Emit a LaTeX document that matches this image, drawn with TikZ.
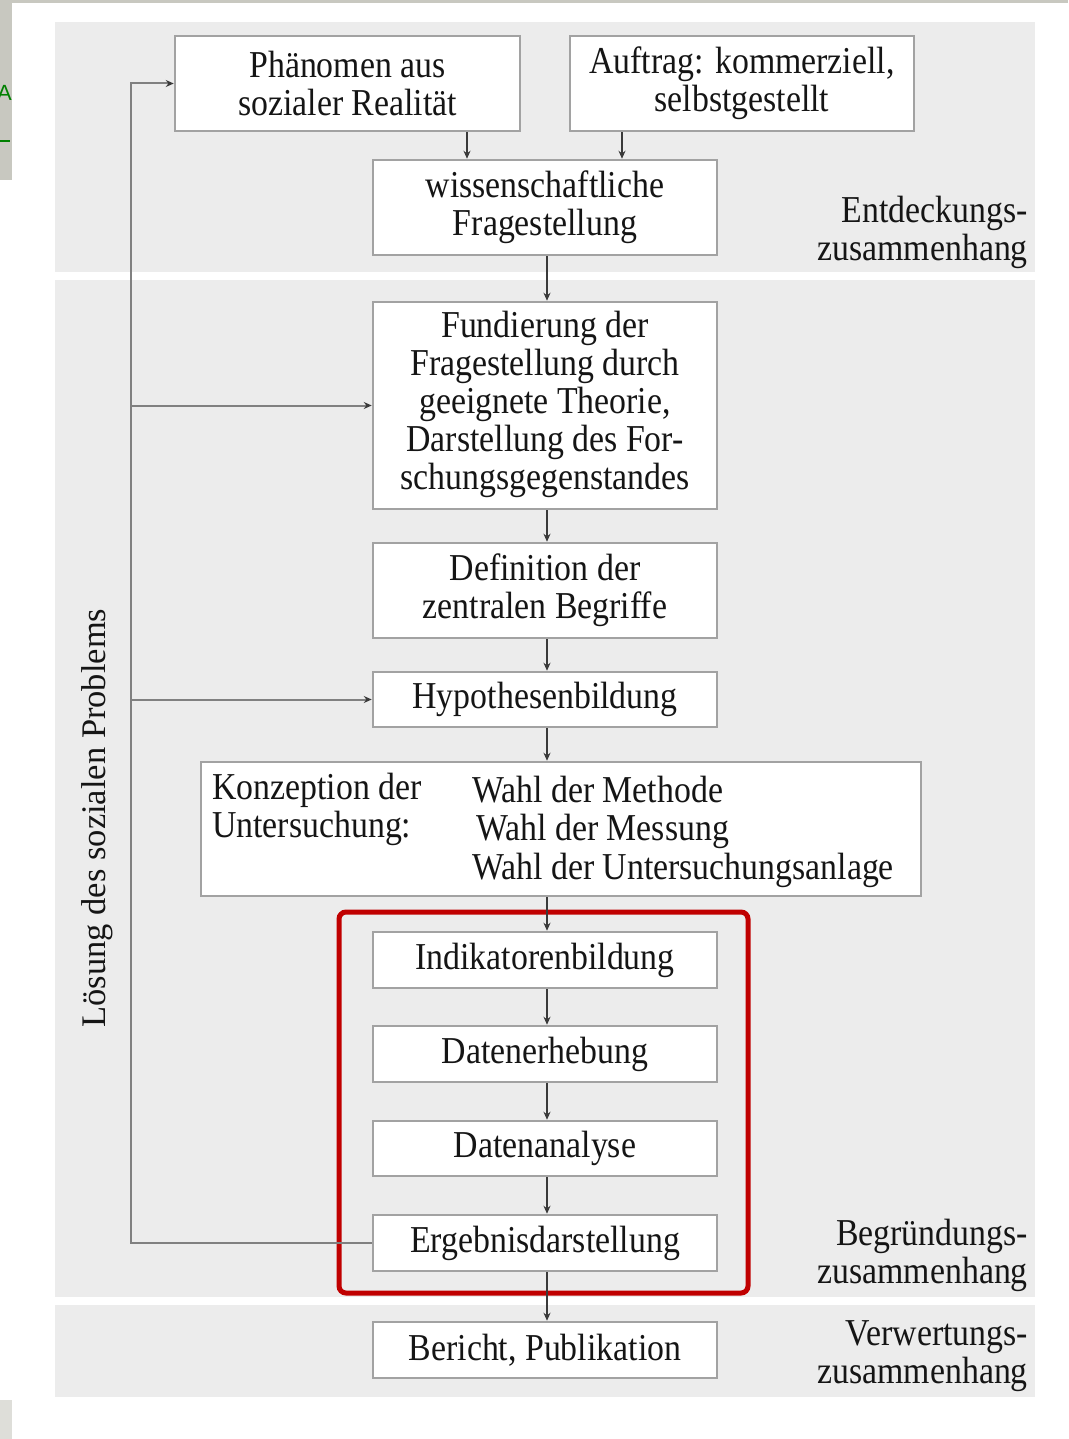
\documentclass[tikz,border=0pt]{standalone}
\usepackage{fontspec}
\setmainfont[FakeStretch=0.89]{Liberation Serif}
\newfontfamily\rotfont{Liberation Serif}
\newfontfamily\uifont{Liberation Sans}
\usetikzlibrary{arrows.meta,calc}
\definecolor{panel}{HTML}{ECECEC}
\definecolor{boxline}{HTML}{A2A2A2}
\definecolor{txt}{HTML}{151515}
\definecolor{conn}{HTML}{3A3A3A}
\definecolor{loop}{HTML}{808080}
\definecolor{redframe}{HTML}{C00000}
\definecolor{uigray}{HTML}{C8C8C0}
\definecolor{uigreen}{HTML}{008000}
\tikzset{
  stepbox/.style={draw=boxline, line width=2.5pt, fill=white, inner sep=0pt,
    minimum width=344pt, text=txt, align=center,
    font=\fontsize{38}{38}\selectfont},
  sidelabel/.style={anchor=east, align=right, text=txt, inner sep=0pt,
    font=\fontsize{38}{38}\selectfont},
  plain/.style={text=txt, inner sep=0pt, anchor=west,
    font=\fontsize{38}{38}\selectfont},
  arr/.style={draw=conn, line width=1.6pt, -{Stealth[length=8pt,width=7pt]}},
  looparr/.style={draw=loop, line width=2pt, -{Stealth[length=8pt,width=7pt,color=conn]}},
  loopline/.style={draw=loop, line width=2pt}
}
\begin{document}
\begin{tikzpicture}[x=1pt,y=-1pt]
\useasboundingbox (0,0) rectangle (1068,1439);
\fill[white] (0,0) rectangle (1068,1439);
% screenshot edge artifacts
\fill[uigray] (0,0) rectangle (1068,3);
\fill[uigray] (0,0) rectangle (12,180);
\fill[uigray!60] (0,1400) rectangle (12,1439);
\node[anchor=west, inner sep=0pt, text=uigreen, font=\uifont\fontsize{22}{22}\selectfont] (uiA) at (-3,93) {A};
\draw[uigreen, line width=1.5pt] (0,141) -- (10,141);
% panels
\fill[panel] (55,22) rectangle (1035,272);
\fill[panel] (55,280) rectangle (1035,1297);
\fill[panel] (55,1305) rectangle (1035,1397);
% red frame
\draw[redframe, line width=5pt, rounded corners=7pt] (339,912) rectangle (748,1293);
% boxes
\node[stepbox, minimum width=345pt, minimum height=95pt] (phen) at (347.5,83.5) {Phänomen aus\\sozialer Realität};
\node[stepbox, minimum width=344pt, minimum height=95pt] (auft) at (742,83.5) {Auftrag: kommerziell,\\selbstgestellt};
\node[stepbox, minimum height=95pt] (wiss) at (545,207.5) {wissenschaftliche\\Fragestellung};
\node[stepbox, minimum height=207pt] (fund) at (545,405.5) {\raisebox{-3pt}{\begin{tabular}{@{}c@{}}Fundierung der\\Fragestellung durch\\geeignete Theorie,\\Darstellung des For-\\schungsgegenstandes\end{tabular}}};
\node[stepbox, minimum height=95pt] (defi) at (545,590.5) {Definition der\\zentralen Begriffe};
\node[stepbox, minimum height=55pt] (hypo) at (545,699.5) {Hypothesenbildung};
\node[stepbox, minimum width=720pt, minimum height=134pt] (konz) at (561,829) {};
\node[plain] (konzL) at (212,811) {\begin{tabular}{@{}l@{}}Konzeption der\\[0pt]Untersuchung:\end{tabular}};
\node[plain, anchor=base west] (konzR1) at (472,802) {Wahl der Methode};
\node[plain, anchor=base west] (konzR2) at (476,840) {Wahl der Messung};
\node[plain, anchor=base west] (konzR3) at (472,879) {Wahl der Untersuchungsanlage};
\node[stepbox, minimum height=56pt] (indi) at (545,960) {Indikatorenbildung};
\node[stepbox, minimum height=56pt] (dater) at (545,1054) {Datenerhebung};
\node[stepbox, minimum height=55pt] (datan) at (545,1148.5) {Datenanalyse};
\node[stepbox, minimum height=56pt] (ergeb) at (545,1243) {Ergebnisdarstellung};
\node[stepbox, minimum height=56pt] (ber) at (545,1350) {Bericht, Publikation};
% side labels
\node[sidelabel] (entd) at (1028,232) {Entdeckungs-\\zusammenhang};
\node[sidelabel] (begr) at (1028,1255) {Begründungs-\\zusammenhang};
\node[sidelabel] (verw) at (1028,1356) {Verwertungs-\\zusammenhang};
\node[rotate=90, text=txt, inner sep=0pt, font=\rotfont\fontsize{34.5}{34.5}\selectfont] (loes) at (97,818) {Lösung des sozialen Problems};
% connectors
\coordinate (c1) at (467,0);
\coordinate (c2) at (622,0);
\coordinate (cm) at (547,0);
\coordinate (lx) at (131,0);
\draw[arr] (phen.south -| c1) -- (wiss.north -| c1);
\draw[arr] (auft.south -| c2) -- (wiss.north -| c2);
\draw[arr] (wiss.south -| cm) -- (fund.north -| cm);
\draw[arr] (fund.south -| cm) -- (defi.north -| cm);
\draw[arr] (defi.south -| cm) -- (hypo.north -| cm);
\draw[arr] (hypo.south -| cm) -- (konz.north -| cm);
\draw[arr] (konz.south -| cm) -- (indi.north -| cm);
\draw[arr] (indi.south -| cm) -- (dater.north -| cm);
\draw[arr] (dater.south -| cm) -- (datan.north -| cm);
\draw[arr] (datan.south -| cm) -- (ergeb.north -| cm);
\draw[arr] (ergeb.south -| cm) -- (ber.north -| cm);
% feedback loop
\draw[looparr] (ergeb.west) -- (ergeb.west -| lx) -- (phen.west -| lx) -- (phen.west);
\draw[looparr] (fund.west -| lx) -- (fund.west);
\draw[looparr] (hypo.west -| lx) -- (hypo.west);
\end{tikzpicture}
\end{document}
